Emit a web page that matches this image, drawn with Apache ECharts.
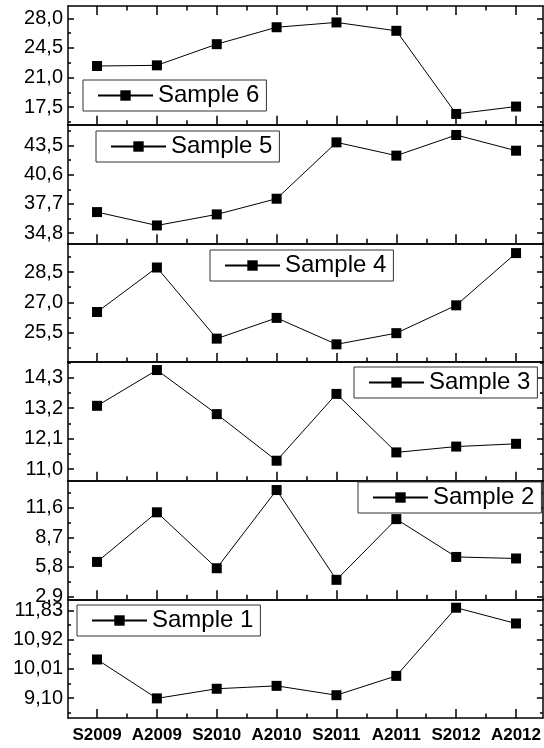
<!DOCTYPE html>
<html><head><meta charset="utf-8">
<script src="https://cdn.jsdelivr.net/npm/echarts@6/dist/echarts.min.js"></script>
<style>html,body{margin:0;padding:0;background:#fff}#c{width:544px;height:748px}</style>
</head><body><div id="c"></div>
<script>
// ---- data ----
const categories = ['S2009', 'A2009', 'S2010', 'A2010', 'S2011', 'A2011', 'S2012', 'A2012'];
const sample6 = [22.37, 22.45, 24.95, 26.95, 27.52, 26.53, 16.71, 17.58];
const sample5 = [36.89, 35.56, 36.66, 38.22, 43.83, 42.51, 44.56, 43.00];
const sample4 = [26.53, 28.72, 25.22, 26.24, 24.94, 25.49, 26.86, 29.43];
const sample3 = [13.28, 14.57, 12.98, 11.30, 13.71, 11.60, 11.81, 11.91];
const sample2 = [6.29, 11.17, 5.67, 13.36, 4.53, 10.50, 6.78, 6.63];
const sample1 = [10.30, 9.09, 9.39, 9.48, 9.19, 9.79, 11.91, 11.42];
const ticks6 = ['17,5', '21,0', '24,5', '28,0'];
const ticks5 = ['34,8', '37,7', '40,6', '43,5'];
const ticks4 = ['25,5', '27,0', '28,5'];
const ticks3 = ['11,0', '12,1', '13,2', '14,3'];
const ticks2 = ['2,9', '5,8', '8,7', '11,6'];
const ticks1 = ['9,10', '10,01', '10,92', '11,83'];

// ---- layout ----
const panels = [
  {name: 'Sample 6', data: sample6, ticks: ticks6, min: 15.44, max: 29.46, lg: [83, 80]},
  {name: 'Sample 5', data: sample5, ticks: ticks5, min: 33.78, max: 45.59, lg: [96, 131]},
  {name: 'Sample 4', data: sample4, ticks: ticks4, min: 24.07, max: 29.91, lg: [210, 250]},
  {name: 'Sample 3', data: sample3, ticks: ticks3, min: 10.58, max: 14.86, lg: [354, 367]},
  {name: 'Sample 2', data: sample2, ticks: ticks2, min: 2.61, max: 14.28, lg: [358, 482]},
  {name: 'Sample 1', data: sample1, ticks: ticks1, min: 8.48, max: 12.17, lg: [77, 605]}
];
const TOP = 6, PH = 118.67, LEFT = 68, WIDTH = 475;
const XMIN = -0.485, XMAX = 7.45;
const majorX = categories.map((c, j) => j);
const minorX = categories.slice(1).map((c, j) => j + 0.5);
const AX = {color: '#000', width: 1.5};
const FONT = 'Liberation Sans, Arial, sans-serif';

const grid = [], xAxis = [], yAxis = [], series = [], legend = [];
panels.forEach((p, i) => {
  grid.push({left: LEFT, width: WIDTH, top: TOP + i * PH, height: PH, show: false});
  const vals = p.ticks.map(t => parseFloat(t.replace(',', '.')));
  const step = vals[1] - vals[0];
  const minorY = [];
  for (let k = -1; k < vals.length; k++) {
    const m = vals[0] + (k + 0.5) * step;
    if (m >= p.min && m <= p.max) minorY.push(m);
  }
  const lab = v => { let best = ''; let d = 1e9; vals.forEach((t, k) => { if (Math.abs(t - v) < d) { d = Math.abs(t - v); best = p.ticks[k]; } }); return best; };
  const xi = xAxis.length;
  xAxis.push({gridIndex: i, type: 'value', min: XMIN, max: XMAX, position: 'bottom',
    axisLine: {show: true, onZero: false, lineStyle: AX},
    axisTick: {show: true, inside: true, length: 9, customValues: majorX, lineStyle: AX},
    axisLabel: {show: i === panels.length - 1, customValues: majorX, formatter: v => categories[Math.round(v)],
      fontFamily: FONT, fontWeight: 'bold', fontSize: 17, color: '#000', margin: 9},
    splitLine: {show: false}});
  xAxis.push({gridIndex: i, type: 'value', min: XMIN, max: XMAX, position: 'bottom',
    axisLine: {show: false, onZero: false},
    axisTick: {show: true, inside: true, length: 4.5, customValues: minorX, lineStyle: AX},
    axisLabel: {show: false}, splitLine: {show: false}});
  xAxis.push({gridIndex: i, type: 'value', min: XMIN, max: XMAX, position: 'top',
    axisLine: {show: true, onZero: false, lineStyle: AX},
    axisTick: {show: i === 0, inside: true, length: 9, customValues: majorX, lineStyle: AX},
    axisLabel: {show: false}, splitLine: {show: false}});
  if (i === 0) {
    xAxis.push({gridIndex: i, type: 'value', min: XMIN, max: XMAX, position: 'top',
      axisLine: {show: false, onZero: false},
      axisTick: {show: true, inside: true, length: 4.5, customValues: minorX, lineStyle: AX},
      axisLabel: {show: false}, splitLine: {show: false}});
  }
  const yi = yAxis.length;
  yAxis.push({gridIndex: i, type: 'value', min: p.min, max: p.max, position: 'left',
    axisLine: {show: true, onZero: false, lineStyle: AX},
    axisTick: {show: true, inside: true, length: 6, customValues: vals, lineStyle: AX},
    axisLabel: {show: true, customValues: vals, formatter: lab, fontFamily: FONT, fontSize: 20, color: '#000', margin: 5},
    splitLine: {show: false}});
  yAxis.push({gridIndex: i, type: 'value', min: p.min, max: p.max, position: 'left',
    axisLine: {show: false, onZero: false},
    axisTick: {show: true, inside: true, length: 3, customValues: minorY, lineStyle: AX},
    axisLabel: {show: false}, splitLine: {show: false}});
  yAxis.push({gridIndex: i, type: 'value', min: p.min, max: p.max, position: 'right',
    axisLine: {show: true, onZero: false, lineStyle: AX},
    axisTick: {show: true, inside: true, length: 6, customValues: vals, lineStyle: AX},
    axisLabel: {show: false}, splitLine: {show: false}});
  yAxis.push({gridIndex: i, type: 'value', min: p.min, max: p.max, position: 'right',
    axisLine: {show: false, onZero: false},
    axisTick: {show: true, inside: true, length: 3, customValues: minorY, lineStyle: AX},
    axisLabel: {show: false}, splitLine: {show: false}});
  series.push({name: p.name, type: 'line', xAxisIndex: xi, yAxisIndex: yi,
    data: p.data.map((v, j) => [j, v]), symbol: 'rect', symbolSize: 10,
    itemStyle: {color: '#000'}, lineStyle: {color: '#000', width: 1}, z: 5});
  legend.push({data: [p.name], left: p.lg[0], top: p.lg[1], orient: 'horizontal',
    itemWidth: 55, itemHeight: 13, itemGap: 0, padding: [3, 7, 3, 14],
    borderColor: '#333', borderWidth: 1, backgroundColor: '#fff', selectedMode: false,
    textStyle: {fontFamily: FONT, fontSize: 24, color: '#000', lineHeight: 25}});
});

const chart = echarts.init(document.getElementById('c'), null, {renderer: 'canvas'});
chart.setOption({animation: false, backgroundColor: '#fff', grid, xAxis, yAxis, series, legend});
</script></body></html>
